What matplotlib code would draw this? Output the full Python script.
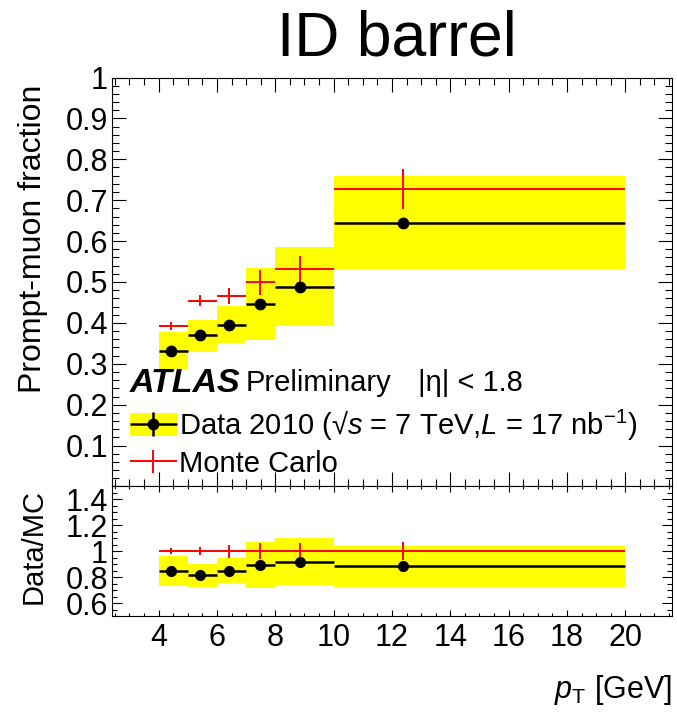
import numpy as np
import matplotlib
matplotlib.use("Agg")
import matplotlib.pyplot as plt
from matplotlib.patches import Patch
from matplotlib.container import ErrorbarContainer
from matplotlib.legend_handler import HandlerErrorbar, HandlerTuple
from matplotlib.ticker import FixedLocator, MultipleLocator, FuncFormatter

plt.rcParams['font.family'] = ['Liberation Sans', 'DejaVu Sans']
plt.rcParams['mathtext.fontset'] = 'custom'
plt.rcParams['mathtext.rm'] = 'Liberation Sans'
plt.rcParams['mathtext.it'] = 'Liberation Sans:italic'
plt.rcParams['mathtext.bf'] = 'Liberation Sans:bold'

# pT bins [GeV] and mean pT of each bin
bin_lo = np.array([4, 5, 6, 7, 8, 10])
bin_hi = np.array([5, 6, 7, 8, 10, 20])
pt_mean = np.array([4.44, 5.43, 6.42, 7.46, 8.85, 12.37])

# prompt-muon fraction, data (point, stat, syst band) and MC
data_frac = np.array([0.332, 0.371, 0.395, 0.447, 0.488, 0.644])
data_stat = np.array([0.004, 0.004, 0.005, 0.006, 0.007, 0.008])
data_syst_lo = np.array([0.287, 0.330, 0.350, 0.359, 0.392, 0.530])
data_syst_hi = np.array([0.377, 0.408, 0.442, 0.534, 0.585, 0.759])
mc_frac = np.array([0.392, 0.454, 0.465, 0.499, 0.531, 0.727])
mc_err = np.array([0.009, 0.013, 0.020, 0.031, 0.032, 0.049])

# data / MC
ratio = np.array([0.845, 0.814, 0.847, 0.894, 0.919, 0.886])
ratio_stat = np.array([0.010, 0.010, 0.012, 0.014, 0.016, 0.018])
ratio_syst_lo = np.array([0.729, 0.726, 0.752, 0.718, 0.739, 0.726])
ratio_syst_hi = np.array([0.961, 0.902, 0.948, 1.072, 1.103, 1.043])
ratio_mc = np.array([1.0, 1.0, 1.0, 1.0, 1.0, 1.0])
ratio_mc_err = np.array([0.024, 0.030, 0.050, 0.063, 0.065, 0.068])

yellow = '#ffff00'
fs = 22    # tick labels
tfs = 21   # legend / labels inside the frame

fig = plt.figure(figsize=(6.77, 7.17), dpi=100)
ax = fig.add_axes([0.1654, 0.3215, 0.8272, 0.5704])
axr = fig.add_axes([0.1654, 0.1409, 0.8272, 0.1806], sharex=ax)

xerr = [pt_mean - bin_lo, bin_hi - pt_mean]

# top panel
ax.bar(bin_lo, data_syst_hi - data_syst_lo, width=bin_hi - bin_lo, bottom=data_syst_lo,
       align='edge', color=yellow, linewidth=0, zorder=1)
mc = ax.errorbar(pt_mean, mc_frac, xerr=xerr, yerr=mc_err, fmt='none',
                 ecolor='red', elinewidth=1.4, zorder=2)
dat = ax.errorbar(pt_mean, data_frac, xerr=xerr, yerr=data_stat, fmt='o', color='black',
                  ms=7.5, elinewidth=1.8, zorder=3)

# ratio panel
axr.bar(bin_lo, ratio_syst_hi - ratio_syst_lo, width=bin_hi - bin_lo, bottom=ratio_syst_lo,
        align='edge', color=yellow, linewidth=0, zorder=1)
axr.errorbar(pt_mean, ratio_mc, xerr=xerr, yerr=ratio_mc_err, fmt='none',
             ecolor='red', elinewidth=1.4, zorder=2)
axr.errorbar(pt_mean, ratio, xerr=xerr, yerr=ratio_stat, fmt='o', color='black',
             ms=7, elinewidth=1.8, zorder=3)

# axes
ax.set_xlim(2.4, 21.6)
ax.set_ylim(0, 1)
axr.set_ylim(0.5, 1.5)

for a in (ax, axr):
    a.xaxis.set_major_locator(MultipleLocator(2))
    a.xaxis.set_minor_locator(MultipleLocator(0.5))
    a.tick_params(which='both', direction='in', top=True, right=True, labelsize=fs)
    for s in a.spines.values():
        s.set_linewidth(0.8)

ax.yaxis.set_major_locator(FixedLocator(np.round(np.arange(0, 1.01, 0.1), 1)))
ax.yaxis.set_minor_locator(MultipleLocator(0.02))
ax.yaxis.set_major_formatter(FuncFormatter(
    lambda v, p: '' if v < 0.05 else ('1' if abs(v - 1) < 1e-6 else f'{v:.1f}')))
ax.tick_params(axis='x', labelbottom=False)
ax.tick_params(which='major', length=10, width=0.8, pad=3)
ax.tick_params(which='minor', length=5, width=0.8)

axr.yaxis.set_major_locator(FixedLocator([0.6, 0.8, 1.0, 1.2, 1.4]))
axr.yaxis.set_minor_locator(MultipleLocator(0.05))
axr.yaxis.set_major_formatter(FuncFormatter(
    lambda v, p: '1' if abs(v - 1) < 1e-6 else f'{v:.1f}'))
axr.tick_params(which='major', length=7, width=0.8, pad=3)
axr.tick_params(which='minor', length=3.5, width=0.8)
axr.tick_params(axis='x', which='major', length=4, pad=5)
axr.tick_params(axis='x', which='minor', length=2)

# labels
fig.text(0.586, 0.945, 'ID barrel', fontsize=45, ha='center', va='center')
fig.text(0.049, 0.8815, 'Prompt-muon fraction', fontsize=23, rotation=90, ha='center', va='top')
fig.text(0.049, 0.318, 'Data/MC', fontsize=21, rotation=90, ha='center', va='top')
fig.text(0.993, 1 - 690 / 717, r'$p_{\mathrm{T}}$ [GeV]', fontsize=fs, ha='right', va='center')

ax.text(0.032, 0.253, 'ATLAS', transform=ax.transAxes, fontsize=24.5, fontweight='bold',
        fontstyle='italic', va='center')
ax.text(0.239, 0.253, 'Preliminary', transform=ax.transAxes, fontsize=tfs, va='center')
ax.text(0.546, 0.253, '|η| < 1.8', transform=ax.transAxes, fontsize=tfs, va='center')

leg = ax.legend([(Patch(facecolor=yellow, linewidth=0), dat), mc],
                [r'Data 2010 (√$s$ = 7 TeV,$L$ = 17 nb$^{-1}$)', 'Monte Carlo'],
                handler_map={ErrorbarContainer: HandlerErrorbar(xerr_size=0.8, yerr_size=0.4),
                             tuple: HandlerTuple(ndivide=1, pad=0)},
                loc='lower left', bbox_to_anchor=(0.032, 0.021), frameon=False,
                fontsize=tfs, numpoints=1, handlelength=1.6, handleheight=0.8,
                handletextpad=0.1, labelspacing=0.25, borderpad=0, borderaxespad=0)

fig.savefig('out.png', dpi=100)
